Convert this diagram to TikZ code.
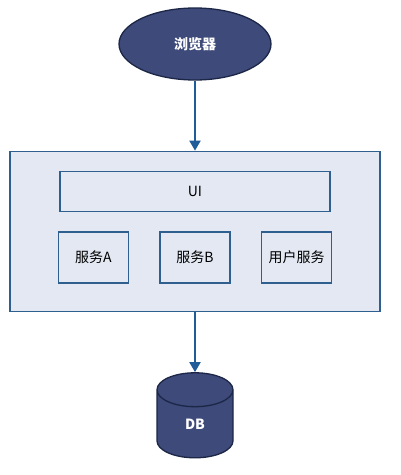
\documentclass[tikz,border=0pt]{standalone}
\usepackage{fontspec}
\setmainfont{Noto Sans CJK SC}
\usepackage{tikz}
\usetikzlibrary{arrows.meta,positioning,shapes,shapes.geometric}

\definecolor{navy}{HTML}{3D4A7A}
\definecolor{navyline}{HTML}{1C2646}
\definecolor{panel}{HTML}{E3E8F2}
\definecolor{panelline}{HTML}{2F5F8E}
\definecolor{arrowblue}{HTML}{1F5C99}

\tikzset{
  darkshape/.style={fill=navy,draw=navyline,line width=1.3pt,text=white,font=\fontsize{14}{16}\selectfont\bfseries},
  panelbox/.style={rectangle,fill=panel,draw=panelline,line width=1.5pt,font=\fontsize{14}{16}\selectfont,inner sep=0pt},
}

\begin{document}
\begin{tikzpicture}[x=1pt,y=1pt,->,>={Triangle[width=11pt,length=10pt]},line width=2pt,arrowblue]
    \useasboundingbox (0,0) rectangle (400,475);
    \node[darkshape,ellipse,minimum width=152pt,minimum height=72pt] (browser) at (195,431) {浏览器} ;
    \node[panelbox,minimum width=370pt,minimum height=160pt] (app) [below=70pt of browser] {} ;
    \node[panelbox,minimum width=270pt,minimum height=40pt,text=black] (ui) [below=20pt of app.north] {UI} ;
    \node[panelbox,minimum width=70pt,minimum height=51pt,text=black] (svcb) [below=19pt of ui] {服务B} ;
    \node[panelbox,minimum width=70pt,minimum height=51pt,text=black] (svca) [left=30pt of svcb] {服务A} ;
    \node[panelbox,minimum width=70pt,minimum height=51pt,text=black] (usersvc) [right=30pt of svcb] {用户服务} ;
    \node[darkshape,cylinder,shape border rotate=90,aspect=1.7,minimum width=76pt,minimum height=85pt,inner sep=0pt] (db) [below=60pt of app] {DB} ;
    \path
    (browser) edge (app)
    (app) edge (db);
  \end{tikzpicture}
\end{document}
